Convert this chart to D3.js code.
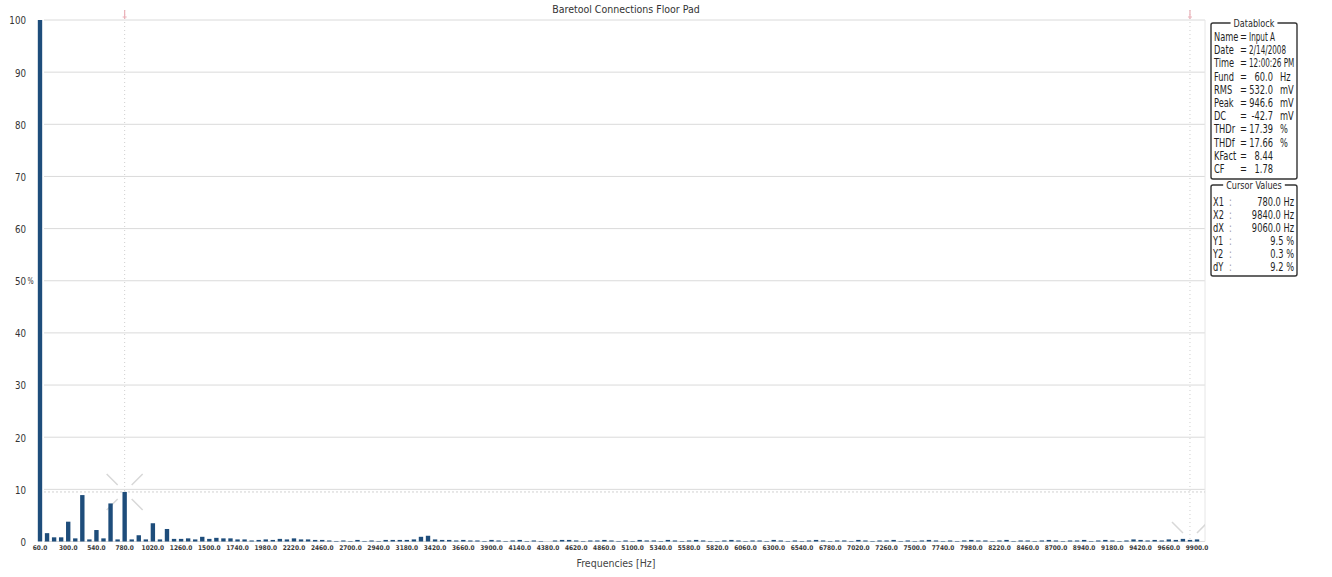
<!DOCTYPE html>
<html>
<head>
<meta charset="utf-8">
<script src="https://cdn.jsdelivr.net/npm/d3@7/dist/d3.min.js"></script>
<style>
  html, body { margin: 0; padding: 0; background: #fff; }
  svg { display: block; }
  text { font-family: "Liberation Sans Narrow", "DejaVu Sans Condensed", "Liberation Sans", sans-serif; }
</style>
</head>
<body>
<svg id="chart" width="1332" height="577"></svg>
<script>
// ---------------- DATA ----------------
const chartTitle = "Baretool Connections Floor Pad";
const xAxisTitle = "Frequencies [Hz]";

const frequencies = [60,120,180,240,300,360,420,480,540,600,660,720,780,840,900,960,1020,1080,1140,1200,
1260,1320,1380,1440,1500,1560,1620,1680,1740,1800,1860,1920,1980,2040,2100,2160,2220,2280,2340,2400,
2460,2520,2580,2640,2700,2760,2820,2880,2940,3000,3060,3120,3180,3240,3300,3360,3420,3480,3540,3600,
3660,3720,3780,3840,3900,3960,4020,4080,4140,4200,4260,4320,4380,4440,4500,4560,4620,4680,4740,4800,
4860,4920,4980,5040,5100,5160,5220,5280,5340,5400,5460,5520,5580,5640,5700,5760,5820,5880,5940,6000,
6060,6120,6180,6240,6300,6360,6420,6480,6540,6600,6660,6720,6780,6840,6900,6960,7020,7080,7140,7200,
7260,7320,7380,7440,7500,7560,7620,7680,7740,7800,7860,7920,7980,8040,8100,8160,8220,8280,8340,8400,
8460,8520,8580,8640,8700,8760,8820,8880,8940,9000,9060,9120,9180,9240,9300,9360,9420,9480,9540,9600,
9660,9720,9780,9840,9900];

// harmonic amplitude in % of fundamental
const amplitudes = [100,1.6,0.8,0.8,3.8,0.6,8.9,0.4,2.2,0.6,7.3,0.4,9.5,0.4,1.2,0.4,3.5,0.4,2.4,0.5,
0.5,0.6,0.4,0.9,0.5,0.7,0.6,0.6,0.4,0.4,0.2,0.3,0.4,0.3,0.5,0.4,0.6,0.4,0.4,0.3,
0.3,0.2,0.1,0.2,0.1,0.3,0.1,0.2,0.1,0.3,0.3,0.3,0.3,0.4,0.9,1.1,0.4,0.3,0.3,0.2,
0.3,0.2,0.2,0.1,0.3,0.2,0.1,0.2,0.3,0.1,0.2,0.1,0.0,0.2,0.3,0.3,0.2,0.1,0.2,0.2,
0.3,0.2,0.1,0.2,0.1,0.3,0.2,0.2,0.1,0.3,0.2,0.1,0.2,0.3,0.2,0.1,0.1,0.2,0.3,0.2,
0.1,0.2,0.2,0.1,0.3,0.2,0.1,0.2,0.1,0.2,0.3,0.2,0.1,0.2,0.2,0.1,0.3,0.2,0.1,0.2,
0.2,0.3,0.1,0.2,0.1,0.2,0.3,0.2,0.1,0.2,0.1,0.2,0.3,0.2,0.2,0.1,0.2,0.3,0.1,0.2,
0.2,0.1,0.2,0.3,0.2,0.1,0.2,0.2,0.3,0.1,0.2,0.3,0.2,0.1,0.2,0.4,0.3,0.2,0.3,0.2,
0.4,0.3,0.5,0.3,0.4];

const xTickLabels = [60,300,540,780,1020,1260,1500,1740,1980,2220,2460,2700,2940,3180,3420,3660,3900,
4140,4380,4620,4860,5100,5340,5580,5820,6060,6300,6540,6780,7020,7260,7500,7740,7980,8220,8460,8700,
8940,9180,9420,9660,9900];

const yTicks = [0,10,20,30,40,50,60,70,80,90,100];

const cursorX = [780, 9840];     // Hz
const cursorY = [9.5, 0.3];      // %

const datablockLabels = ["Name","Date","Time","Fund","RMS","Peak","DC","THDr","THDf","KFact","CF"];
const datablockValues = ["Input A","2/14/2008","12:00:26 PM","60.0","532.0","946.6","-42.7","17.39","17.66","8.44","1.78"];
const datablockUnits  = ["","","","Hz","mV","mV","mV","%","%","",""];

const cursorLabels = ["X1","X2","dX","Y1","Y2","dY"];
const cursorValues = ["780.0 Hz","9840.0 Hz","9060.0 Hz","9.5 %","0.3 %","9.2 %"];

// ---------------- CHART ----------------
const svg = d3.select("#chart");
const plotTop = 20, plotBottom = 541.5, plotLeft = 44, plotRight = 1205;
const barColor = "#1e4d7b";

// narrow text helper (horizontally condensed real text)
function ntext(parent, x, y, str, opts = {}) {
  const g = parent.append("g")
    .attr("transform", `translate(${x},${y}) scale(${opts.sx || 0.8},1)`);
  return g.append("text")
    .attr("x", 0).attr("y", 0)
    .attr("text-anchor", opts.anchor || "start")
    .attr("font-size", opts.size || 11.5)
    .attr("fill", opts.fill || "#1e1e1e")
    .text(str);
}

const x = d3.scaleBand()
  .domain(frequencies)
  .range([36.47, 1200.55])
  .paddingInner(0.38)
  .paddingOuter(0.19);

const y = d3.scaleLinear().domain([0, 100]).range([plotBottom, plotTop]);
const xc = f => x(f) + x.bandwidth() / 2;

svg.append("defs").append("clipPath").attr("id", "plotclip")
  .append("rect").attr("x", 30).attr("y", 0).attr("width", plotRight - 30).attr("height", plotBottom);

// grid lines
svg.append("g")
  .selectAll("line")
  .data(yTicks)
  .join("line")
  .attr("x1", plotLeft).attr("x2", plotRight)
  .attr("y1", d => y(d)).attr("y2", d => y(d))
  .attr("stroke", "#dadada")
  .attr("stroke-width", 1);

// right border
svg.append("line")
  .attr("x1", plotRight).attr("x2", plotRight)
  .attr("y1", plotTop).attr("y2", plotBottom)
  .attr("stroke", "#e6e6e6");

// Y axis labels
const yAxis = d3.axisLeft(y).tickValues(yTicks).tickSize(0).tickPadding(0)
  .tickFormat(d => d);
const yg = svg.append("g").attr("transform", "translate(26,0)").call(yAxis);
yg.select(".domain").remove();
yg.selectAll("text")
  .attr("font-size", 11)
  .attr("fill", "#333")
  .attr("dy", "0.35em")
  .attr("transform", "scale(0.88,1)");
yg.selectAll(".tick").filter(d => d === 50)
  .append("text")
  .attr("x", 2).attr("dy", "0.35em")
  .attr("text-anchor", "start")
  .attr("font-size", 9)
  .attr("fill", "#333")
  .attr("transform", "scale(0.8,1)")
  .text("%");

// cursor lines (vertical, dotted)
svg.append("g")
  .selectAll("line")
  .data(cursorX)
  .join("line")
  .attr("x1", d => xc(d)).attr("x2", d => xc(d))
  .attr("y1", 10).attr("y2", plotBottom)
  .attr("stroke", "#cfcfcf")
  .attr("stroke-dasharray", "1,3");

// cursor top markers
svg.append("g")
  .selectAll("path")
  .data(cursorX)
  .join("path")
  .attr("d", d => `M${xc(d)},10 L${xc(d)},19 M${xc(d)-2},17 L${xc(d)+2},17`)
  .attr("stroke", "#eab0b8")
  .attr("stroke-width", 1.2)
  .attr("fill", "none");

// horizontal cursor line (Y1)
svg.append("line")
  .attr("x1", plotLeft).attr("x2", plotRight)
  .attr("y1", y(cursorY[0])).attr("y2", y(cursorY[0]))
  .attr("stroke", "#d2d2d2")
  .attr("stroke-dasharray", "2,2");

// starburst markers at cursor points
const bursts = [[cursorX[0], cursorY[0]], [cursorX[1], cursorY[1]]];
const burstG = svg.append("g").attr("clip-path", "url(#plotclip)");
bursts.forEach(([fx, fy]) => {
  const cx = xc(fx), cy = y(fy);
  [[-1,-1],[1,-1],[1,1],[-1,1]].forEach(([dx, dy]) => {
    burstG.append("line")
      .attr("x1", cx + dx * 7).attr("y1", cy + dy * 7)
      .attr("x2", cx + dx * 18).attr("y2", cy + dy * 18)
      .attr("stroke", "#d8d8d8")
      .attr("stroke-width", 1.5);
  });
});

// bars
svg.append("g")
  .selectAll("rect")
  .data(frequencies.map((f, i) => ({ f, v: amplitudes[i] })))
  .join("rect")
  .attr("x", d => x(d.f))
  .attr("width", x.bandwidth())
  .attr("y", d => y(d.v))
  .attr("height", d => y(0) - y(d.v))
  .attr("fill", barColor);

// X tick labels
const xAxis = d3.axisBottom(x).tickValues(xTickLabels).tickSize(0).tickPadding(0)
  .tickFormat(d => d3.format(".1f")(d));
const xg = svg.append("g").attr("transform", `translate(0,${plotBottom + 4})`).call(xAxis);
xg.select(".domain").remove();
xg.selectAll("text")
  .attr("font-size", 6.5)
  .attr("font-weight", "bold")
  .attr("fill", "#3a3a3a")
  .attr("dy", "0.71em");

// titles
svg.append("text")
  .attr("x", 626).attr("y", 13)
  .attr("text-anchor", "middle")
  .attr("font-size", 10.5)
  .attr("fill", "#333")
  .text(chartTitle);

svg.append("text")
  .attr("x", 616).attr("y", 567)
  .attr("text-anchor", "middle")
  .attr("font-size", 10.5)
  .attr("fill", "#444")
  .text(xAxisTitle);

// ---------------- DATABLOCK ----------------
function frameBox(x0, y0, x1, y1, title) {
  const g = svg.append("g");
  g.append("rect")
    .attr("x", x0).attr("y", y0)
    .attr("width", x1 - x0).attr("height", y1 - y0)
    .attr("rx", 2)
    .attr("fill", "none")
    .attr("stroke", "#333")
    .attr("stroke-width", 1.4);
  const cxm = (x0 + x1) / 2;
  const t = ntext(g, cxm, y0 + 4, title, { anchor: "middle", size: 11, fill: "#2a2a2a", sx: 0.82 });
  const w = t.node().getComputedTextLength() * 0.82;
  g.insert("rect", "g")
    .attr("x", cxm - w / 2 - 3).attr("y", y0 - 2)
    .attr("width", w + 6).attr("height", 4)
    .attr("fill", "#fff");
  return g;
}

frameBox(1211, 23, 1297, 179, "Datablock");
const db = svg.append("g");
datablockLabels.forEach((lab, i) => {
  const by = 41 + i * 13.2;
  ntext(db, 1214, by, lab);
  ntext(db, 1240, by, "=");
  if (i < 3) {
    ntext(db, 1249, by, datablockValues[i], { sx: 0.7 });
  } else {
    ntext(db, 1273, by, datablockValues[i], { anchor: "end" });
    if (datablockUnits[i]) ntext(db, 1280, by, datablockUnits[i]);
  }
});

frameBox(1211, 185, 1297, 276, "Cursor Values");
const cv = svg.append("g");
cursorLabels.forEach((lab, i) => {
  const by = 206 + i * 13;
  ntext(cv, 1213, by, lab);
  ntext(cv, 1229, by, ":", { fill: "#999" });
  ntext(cv, 1294, by, cursorValues[i], { anchor: "end" });
});
</script>
</body>
</html>
